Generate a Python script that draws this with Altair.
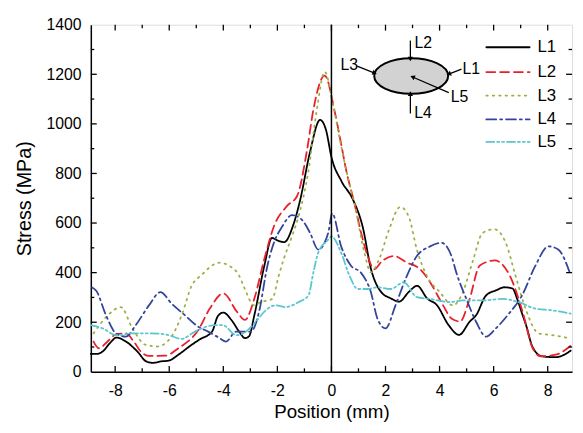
import math
import altair as alt
import pandas as pd

# ---------------- data ----------------
series_names = ["L1", "L2", "L3", "L4", "L5"]
colors = ["#000000", "#e8202a", "#9fae45", "#33449a", "#5cc6cf"]
dashes = [[1, 0], [9, 5], [1.5, 5], [10, 4, 2, 4], [8, 3, 2, 3, 2, 3]]

l1_x = [-8.9, -8.7, -8.45, -8.2, -7.95, -7.6, -7.18, -6.85, -6.6, -6.3, -6.02, -5.66, -5.17, -4.8, -4.56, -4.4, -4.2, -4.0, -3.7, -3.4, -3.2, -3.05, -2.85, -2.48, -2.2, -2.0, -1.75, -1.4, -1.15, -0.8, -0.42, -0.2, 0.0, 0.37, 0.79, 1.16, 1.46, 1.83, 2.2, 2.5, 2.87, 3.17, 3.54, 3.9, 4.33, 4.72, 5.12, 5.35, 5.72, 6.1, 6.4, 6.7, 6.87, 7.07, 7.2, 7.44, 7.8, 8.3, 8.85]
l1_y = [72, 72, 83, 115, 138, 122, 82, 42, 36, 42, 45, 69, 109, 135, 148, 165, 225, 239, 209, 160, 136, 143, 229, 429, 540, 530, 523, 596, 696, 883, 1016, 975, 866, 769, 696, 583, 416, 323, 296, 283, 323, 347, 296, 269, 189, 149, 203, 228, 308, 329, 341, 336, 294, 229, 188, 100, 62, 59, 85]

l2_x = [-8.8, -8.6, -8.3, -7.97, -7.6, -7.3, -7.06, -6.74, -6.15, -5.66, -4.93, -4.5, -4.0, -3.5, -3.2, -2.85, -2.48, -2.12, -1.64, -1.27, -0.9, -0.67, -0.25, 0.12, 0.36, 0.55, 0.85, 1.1, 1.34, 1.58, 1.88, 2.31, 2.8, 3.28, 3.65, 4.13, 4.44, 4.76, 5.1, 5.49, 6.04, 6.59, 7.07, 7.44, 7.74, 8.29, 8.85]
l2_y = [122, 95, 120, 151, 155, 120, 83, 64, 65, 95, 168, 255, 316, 243, 209, 296, 456, 589, 669, 709, 896, 1056, 1195, 1050, 918, 811, 680, 560, 467, 414, 447, 467, 440, 414, 361, 268, 215, 203, 290, 429, 449, 389, 243, 96, 63, 69, 105]

l3_x = [-8.8, -8.27, -7.79, -7.36, -6.88, -6.45, -5.96, -5.54, -5.17, -4.81, -4.14, -3.77, -3.41, -3.23, -2.86, -2.62, -2.19, -1.95, -1.77, -1.46, -1.22, -0.85, -0.55, -0.25, 0.06, 0.3, 0.55, 0.85, 1.22, 1.46, 1.76, 2.13, 2.55, 2.86, 3.16, 3.53, 4.01, 4.5, 4.86, 5.23, 5.59, 6.02, 6.45, 6.81, 7.18, 7.66, 8.15, 8.85]
l3_y = [155, 228, 261, 175, 109, 102, 135, 228, 347, 390, 440, 427, 387, 341, 268, 281, 294, 387, 453, 546, 626, 811, 1050, 1210, 1078, 944, 811, 680, 480, 401, 453, 573, 665, 626, 493, 387, 321, 268, 321, 447, 560, 575, 520, 387, 255, 155, 148, 135]

l4_x = [-8.85, -8.7, -8.34, -7.97, -7.6, -7.24, -6.75, -6.33, -5.9, -5.42, -4.93, -4.56, -4.2, -3.9, -3.53, -2.98, -2.68, -2.37, -2.13, -1.82, -1.46, -1.09, -0.79, -0.49, -0.12, 0.03, 0.36, 0.73, 1.09, 1.46, 1.7, 2.0, 2.37, 2.74, 3.16, 3.65, 4.07, 4.44, 4.62, 4.99, 5.35, 5.72, 6.08, 6.57, 7.05, 7.54, 8.03, 8.39, 8.85]
l4_y = [340, 327, 228, 155, 142, 188, 268, 321, 274, 228, 182, 162, 140, 122, 162, 162, 241, 427, 520, 586, 632, 613, 560, 493, 560, 639, 506, 427, 400, 321, 215, 175, 268, 374, 467, 506, 520, 467, 400, 294, 202, 142, 175, 235, 308, 427, 506, 493, 390]

l5_x = [-8.9, -8.46, -7.97, -7.36, -6.75, -6.15, -5.54, -5.05, -4.62, -4.3, -4.01, -3.53, -3.16, -2.8, -2.43, -2.07, -1.7, -1.22, -0.85, -0.67, -0.49, -0.12, 0.0, 0.36, 0.67, 0.97, 1.34, 1.7, 2.19, 2.68, 3.16, 3.65, 4.38, 4.86, 5.59, 6.32, 6.93, 7.54, 8.15, 8.85]
l5_y = [188, 175, 148, 155, 155, 151, 133, 162, 182, 188, 188, 148, 162, 202, 248, 268, 261, 281, 308, 400, 480, 533, 546, 480, 387, 334, 334, 341, 334, 361, 301, 294, 281, 288, 288, 294, 281, 255, 248, 235]

x_major = [-8, -6, -4, -2, 0, 2, 4, 6, 8]
x_minor = [-7, -5, -3, -1, 1, 3, 5, 7]
y_major = [0, 200, 400, 600, 800, 1000, 1200, 1400]
y_minor = [100, 300, 500, 700, 900, 1100, 1300]
zero_line = [0]

# inset schematic (annotation positions in data units)
ellipse_x = [2.95]
ellipse_y = [1193]
arrow_names = ["L2", "L4", "L3", "L1", "L5"]
arrow_x1 = [2.92, 2.92, 0.95, 4.81, 4.34]
arrow_y1 = [1336, 1042, 1233, 1221, 1126]
arrow_x2 = [2.92, 2.92, 1.60, 4.34, 3.00]
arrow_y2 = [1262, 1122, 1205, 1201, 1189]
inset_label_x = [3.40, 3.39, 0.66, 5.17, 4.74]
inset_label_y = [1325, 1042, 1237, 1221, 1110]

# legend (annotation positions in data units)
legend_x1 = [5.73] * 5
legend_x2 = [7.33] * 5
legend_tx = [7.62] * 5
legend_y = [1309, 1209, 1114, 1018, 927]

# ---------------- layout ----------------
W, H = 488, 352
XDOM = [-8.9, 8.9]
YDOM = [0, 1400]
FONT = "Liberation Sans"

xs = alt.Scale(domain=XDOM, nice=False, zero=False)
ys = alt.Scale(domain=YDOM, nice=False, zero=False)
col_scale = alt.Scale(domain=series_names, range=colors)
dash_scale = alt.Scale(domain=series_names, range=dashes)

x_axis = alt.Axis(values=x_major, ticks=False, grid=False, domain=True, domainColor="black",
                  domainWidth=1.5, labelExpr="'' + datum.value", labelFontSize=16,
                  labelFont=FONT, labelColor="black", labelPadding=11, title="Position (mm)",
                  titleFont=FONT, titleFontSize=19, titleFontWeight="normal",
                  titleColor="black", titlePadding=4)
y_axis = alt.Axis(values=y_major, ticks=False, grid=False, domain=True, domainColor="black",
                  domainWidth=1.5, labelExpr="'' + datum.value", labelFontSize=16,
                  labelFont=FONT, labelColor="black", labelPadding=10,
                  title="Stress (MPa)", titleFont=FONT, titleFontSize=20,
                  titleFontWeight="normal", titleColor="black", titlePadding=12)


def X(field):
    return alt.X(field, scale=xs, axis=x_axis)


def Y(field):
    return alt.Y(field, scale=ys, axis=y_axis)


rows = []
for name, xv, yv in [("L1", l1_x, l1_y), ("L2", l2_x, l2_y), ("L3", l3_x, l3_y),
                     ("L4", l4_x, l4_y), ("L5", l5_x, l5_y)]:
    for a, b in zip(xv, yv):
        rows.append({"x": a, "y": b, "series": name})
df = pd.DataFrame(rows)

lines = alt.Chart(df).mark_line(interpolate="monotone", strokeWidth=1.8, strokeCap="round").encode(
    x=X("x:Q"),
    y=Y("y:Q"),
    color=alt.Color("series:N", scale=col_scale, legend=None),
    strokeDash=alt.StrokeDash("series:N", scale=dash_scale, legend=None),
    detail="series:N",
    order=alt.Order("x:Q"),
)

zero_df = pd.DataFrame({"x": zero_line})
zero_rule = alt.Chart(zero_df).mark_rule(color="black", strokeWidth=1.5).encode(x=X("x:Q"))


def tick_layer(values, length, axis):
    d = pd.DataFrame({"x": values, "y": values})
    base = alt.Chart(d).mark_rule(color="black", strokeWidth=1.3)
    if axis == "bottom":
        return base.encode(x=X("x:Q"), y=alt.value(H), y2=alt.value(H - length))
    if axis == "top":
        return base.encode(x=X("x:Q"), y=alt.value(0), y2=alt.value(length))
    if axis == "left":
        return base.encode(y=Y("y:Q"), x=alt.value(0), x2=alt.value(length))
    return base.encode(y=Y("y:Q"), x=alt.value(W), x2=alt.value(W - length))


ticks = []
for side in ["bottom", "top"]:
    ticks.append(tick_layer(x_major, 6, side))
    ticks.append(tick_layer(x_minor, 3.5, side))
for side in ["left", "right"]:
    ticks.append(tick_layer([v for v in y_major if 0 < v < 1400], 6, side))
    ticks.append(tick_layer(y_minor, 3.5, side))

# inset ellipse
ell_df = pd.DataFrame({"x": ellipse_x, "y": ellipse_y})
ellipse_path = "M-1,0 A1,0.48 0 1,1 1,0 A1,0.48 0 1,1 -1,0 Z"
ellipse = alt.Chart(ell_df).mark_point(
    shape=ellipse_path, size=75 * 75, filled=True, fill="#d2d2d2", stroke="black",
    strokeWidth=2, opacity=1, fillOpacity=1, strokeOpacity=1).encode(
    x=X("x:Q"), y=Y("y:Q"))

kx = W / (XDOM[1] - XDOM[0])
ky = H / (YDOM[1] - YDOM[0])
angles = []
for a1, b1, a2, b2 in zip(arrow_x1, arrow_y1, arrow_x2, arrow_y2):
    dx = (a2 - a1) * kx
    dy = -(b2 - b1) * ky
    angles.append(math.degrees(math.atan2(dx, -dy)) % 360)

arr_df = pd.DataFrame({"x": arrow_x1, "y": arrow_y1, "x2": arrow_x2, "y2": arrow_y2,
                       "ang": angles, "name": arrow_names})
arrow_lines = alt.Chart(arr_df).mark_rule(color="black", strokeWidth=1.3).encode(
    x=X("x:Q"), y=Y("y:Q"), x2="x2:Q", y2="y2:Q")
head_df = pd.DataFrame({"x": arrow_x2, "y": arrow_y2, "ang": angles})
arrow_heads = alt.Chart(head_df).mark_point(
    shape="triangle-up", size=28, filled=True, color="black", opacity=1).encode(
    x=X("x:Q"), y=Y("y:Q"), angle=alt.Angle("ang:Q", scale=None))

lab_df = pd.DataFrame({"x": inset_label_x, "y": inset_label_y, "t": arrow_names})
inset_labels = alt.Chart(lab_df).mark_text(
    font=FONT, fontSize=16, color="black", align="center", baseline="middle").encode(
    x=X("x:Q"), y=Y("y:Q"), text="t:N")

# legend
leg_df = pd.DataFrame({"x": legend_x1, "x2": legend_x2, "tx": legend_tx,
                       "y": legend_y, "series": series_names})
leg_lines = alt.Chart(leg_df).mark_rule(strokeWidth=1.8, strokeCap="round").encode(
    x=X("x:Q"), x2="x2:Q", y=Y("y:Q"),
    color=alt.Color("series:N", scale=col_scale, legend=None),
    strokeDash=alt.StrokeDash("series:N", scale=dash_scale, legend=None))
leg_text_df = pd.DataFrame({"x": legend_tx, "y": legend_y, "series": series_names})
leg_text = alt.Chart(leg_text_df).mark_text(
    font=FONT, fontSize=17, color="black", align="left", baseline="middle").encode(
    x=X("x:Q"), y=Y("y:Q"), text="series:N")

chart = alt.layer(
    lines, zero_rule, *ticks, ellipse, arrow_lines, arrow_heads, inset_labels, leg_lines, leg_text
).properties(
    width=W, height=H,
    autosize=alt.AutoSizeParams(type="none"),
    padding={"left": 84, "top": 14, "right": 3, "bottom": 50},
).configure_view(
    stroke="black", strokeWidth=1.5
).configure(background="white")

chart.save("out.html", embed_options={"renderer": "svg", "actions": False})
